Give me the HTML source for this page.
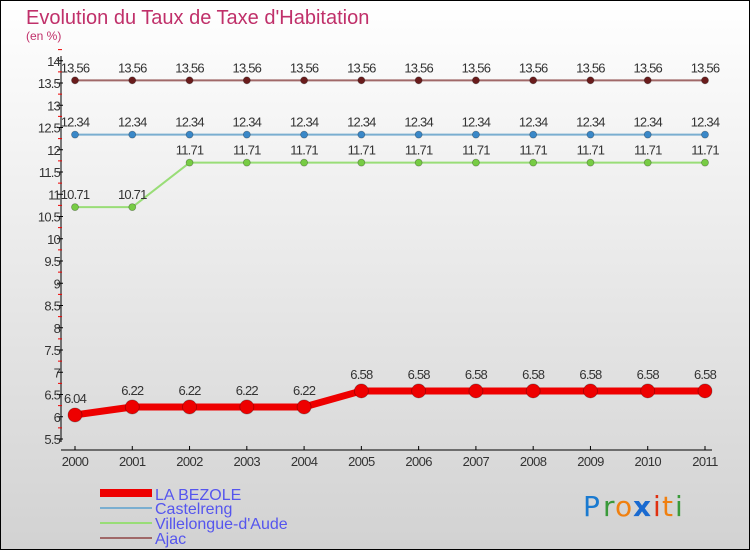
<!DOCTYPE html>
<html><head><meta charset="utf-8"><style>
body{margin:0}
svg{display:block;font-family:"Liberation Sans",sans-serif}
</style></head><body>
<svg id="c" width="750" height="550" xmlns="http://www.w3.org/2000/svg">
<defs><linearGradient id="bg" x1="0" y1="0" x2="0" y2="1"><stop offset="0" stop-color="#ffffff"/><stop offset="1" stop-color="#d2d2d2"/></linearGradient></defs>
<rect x="0.5" y="0.5" width="749" height="549" fill="url(#bg)" stroke="#000"/>
<text x="26" y="24" font-size="20" fill="#c0306a">Evolution du Taux de Taxe d'Habitation</text>
<text x="26" y="40" font-size="12" fill="#c0306a">(en %)</text>
<g id="axes"></g><g id="series"></g>
<g>
<rect x="100" y="489" width="52" height="8" fill="#e00"/>
<text x="155" y="500" font-size="16" fill="#5555ee">LA BEZOLE</text>
<rect x="100" y="507" width="52" height="2" fill="#7aaed0"/>
<text x="155" y="514" font-size="16" fill="#5555ee">Castelreng</text>
<rect x="100" y="522" width="52" height="2" fill="#99dd77"/>
<text x="155" y="529" font-size="16" fill="#5555ee">Villelongue-d'Aude</text>
<rect x="100" y="537" width="52" height="2" fill="#a06868"/>
<text x="155" y="544" font-size="16" fill="#5555ee">Ajac</text>
</g>
<g font-size="28" font-family="'DejaVu Sans',sans-serif">
<text x="583" y="516" fill="#1a7ad0">P</text><text x="603" y="516" fill="#3a9a3a">r</text><text x="615" y="516" fill="#f08010">o</text><text x="633" y="516" fill="#1a6ad0" font-weight="bold">x</text><text x="653" y="516" fill="#e03010">i</text><text x="662" y="516" fill="#f08010">t</text><text x="675" y="516" fill="#3a9a3a">i</text>
</g>
</svg>
<script>
const years=[2000,2001,2002,2003,2004,2005,2006,2007,2008,2009,2010,2011];
const bezole=[6.04,6.22,6.22,6.22,6.22,6.58,6.58,6.58,6.58,6.58,6.58,6.58];
const castelreng=[12.34,12.34,12.34,12.34,12.34,12.34,12.34,12.34,12.34,12.34,12.34,12.34];
const villelongue=[10.71,10.71,11.71,11.71,11.71,11.71,11.71,11.71,11.71,11.71,11.71,11.71];
const ajac=[13.56,13.56,13.56,13.56,13.56,13.56,13.56,13.56,13.56,13.56,13.56,13.56];
const yTicks=[5.5,6,6.5,7,7.5,8,8.5,9,9.5,10,10.5,11,11.5,12,12.5,13,13.5,14];
const NS="http://www.w3.org/2000/svg";
const X=i=>75+i*(630/11);
const Y=v=>439-(v-5.5)*44.5;
function mk(p,t,a){const e=document.createElementNS(NS,t);for(const k in a)e.setAttribute(k,a[k]);p.appendChild(e);return e;}
const ax=document.getElementById('axes');
const yl=mk(ax,'line',{x1:61,y1:56,x2:61,y2:442,stroke:'#000'});


const xl=mk(ax,'line',{x1:61,y1:450,x2:712,y2:450,stroke:'#000'});


yTicks.forEach(v=>{
  mk(ax,'line',{x1:57,y1:Y(v),x2:63,y2:Y(v),stroke:'#000'});
  mk(ax,'line',{x1:58,y1:Y(v+0.25),x2:62,y2:Y(v+0.25),stroke:'#e00'});
  const t=mk(ax,'text',{x:60,y:Y(v)+5,'font-size':13,'text-anchor':'end',fill:'#333','letter-spacing':'-0.8'});
  t.textContent=String(v);
  
  
});
years.forEach((yr,i)=>{
  mk(ax,'line',{x1:X(i),y1:446,x2:X(i),y2:450,stroke:'#000'});
  const t=mk(ax,'text',{x:X(i),y:466,'font-size':13,'text-anchor':'middle',fill:'#333','letter-spacing':'-0.6'});
  t.textContent=yr;
  
  
});
const sg=document.getElementById('series');
function series(vals,name,color,dot,w,r,lab){
  const g=mk(sg,'g',{});
  
  
  mk(g,'polyline',{points:vals.map((v,i)=>X(i)+','+Y(v)).join(' '),fill:'none',stroke:color,'stroke-width':w,'stroke-linejoin':'round'});
  vals.forEach((v,i)=>{
    const c=mk(g,'circle',{cx:X(i),cy:Y(v),r:r,fill:dot,stroke:'rgba(0,0,0,0.3)','stroke-width':0.8});
    
    
    const t=mk(g,'text',{x:X(i),y:Y(v)-lab,'font-size':13,'text-anchor':'middle',fill:'#333','letter-spacing':'-0.8'});
    t.textContent=v.toFixed(2);
    
    
  });
}
series(ajac,'series-ajac','#a06868','#6a1c1c',2,3.5,8);
series(castelreng,'series-castelreng','#7aaed0','#3a88c8',2,3.5,8);
series(villelongue,'series-villelongue','#99dd77','#77cc44',2,3.5,8);
series(bezole,'series-la-bezole','#e00','#e00',7,7,12);
</script>
</body></html>
